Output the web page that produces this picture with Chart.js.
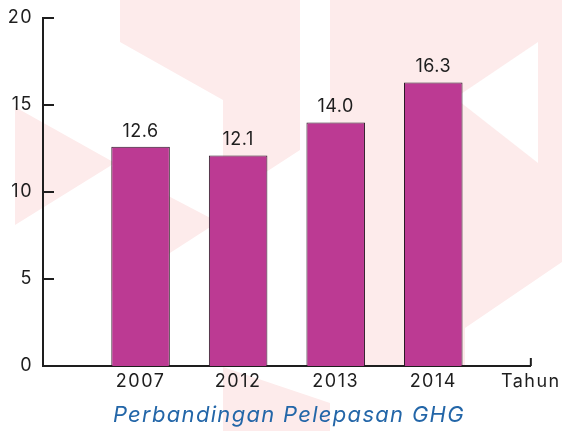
<!DOCTYPE html>
<html>
<head>
<meta charset="utf-8">
<script src="https://cdn.jsdelivr.net/npm/chart.js@4.4.0/dist/chart.umd.min.js"></script>
<style>
  html, body { margin: 0; padding: 0; background: #fff; }
  #wrap { width: 562px; height: 431px; }
</style>
</head>
<body>
<div id="wrap"><canvas id="myChart" width="562" height="431"></canvas></div>
<script>
let years = ['2007', '2012', '2013', '2014'];
let ghgValues = [12.6, 12.1, 14.0, 16.3];
let yTicks = [0, 5, 10, 15, 20];
let unitLabel = 'Tahun';
let chartTitle = 'Perbandingan Pelepasan GHG';

let labels = [''].concat(years, [unitLabel]);
let barData = [null].concat(ghgValues, [null]);

let fontFamily = "Inter, 'Noto Sans', sans-serif";
let textColor = '#1e1e1e';

// faint background pattern behind the chart
let bgShapes = [
    [[120, 0], [300, 0], [300, 150], [223, 200], [223, 100], [120, 42]],
    [[330, 0], [562, 0], [562, 262], [465, 328], [465, 366], [330, 366]],
    [[15, 107], [15, 225], [115, 163]],
    [[111, 166], [111, 291], [218, 222]],
    [[223, 367], [330, 403], [330, 431], [223, 431]]
];
let bgHole = [[538, 42], [538, 163], [455, 98]];

function tracePoly(c, pts) {
    c.beginPath();
    pts.forEach((p, i) => i ? c.lineTo(p[0], p[1]) : c.moveTo(p[0], p[1]));
    c.closePath();
}

let backgroundPlugin = {
    id: 'background',
    beforeDraw(chart) {
        let c = chart.ctx;
        c.save();
        c.fillStyle = '#fdebeb';
        bgShapes.forEach(shape => { tracePoly(c, shape); c.fill(); });
        c.fillStyle = '#ffffff';
        tracePoly(c, bgHole);
        c.fill();
        c.restore();
        // the original lettering is wide, so space all text out a little
        c.letterSpacing = '1.5px';
    }
};

let decorPlugin = {
    id: 'decor',
    afterDraw(chart) {
        let c = chart.ctx;
        let x = chart.scales.x;
        let y = chart.scales.y;
        let area = chart.chartArea;
        c.save();
        c.strokeStyle = textColor;
        c.lineWidth = 2;
        // inward tick marks on the value axis
        y.ticks.forEach(t => {
            let py = Math.round(y.getPixelForValue(t.value));
            c.beginPath();
            c.moveTo(area.left, py);
            c.lineTo(area.left + 11, py);
            c.stroke();
        });
        // small tick at the end of the category axis
        let endX = x.getPixelForValue(labels.length - 1);
        c.beginPath();
        c.moveTo(endX, area.bottom);
        c.lineTo(endX, area.bottom - 8);
        c.stroke();

        // value labels on top of bars
        c.fillStyle = textColor;
        c.font = '18px ' + fontFamily;
        c.letterSpacing = '0.5px';
        c.textAlign = 'center';
        c.textBaseline = 'alphabetic';
        chart.getDatasetMeta(0).data.forEach((bar, i) => {
            let v = barData[i];
            if (v === null) return;
            c.fillText(v.toFixed(1), bar.x, bar.y - 10);
        });

        // caption below the chart
        c.fillStyle = '#2366a8';
        c.font = 'italic 22px ' + fontFamily;
        c.letterSpacing = '1.3px';
        c.fillText(chartTitle, (area.left + area.right) / 2 + 2, 422);
        c.restore();
    }
};

let ctx = document.getElementById('myChart').getContext('2d');
let myChart = new Chart(ctx, {
    type: 'bar',
    data: {
        labels: labels,
        datasets: [{
            data: barData,
            backgroundColor: '#bc3a93',
            borderColor: '#2b1a26',
            borderWidth: 1,
            barPercentage: 0.6,
            categoryPercentage: 1
        }]
    },
    options: {
        responsive: false,
        animation: false,
        layout: { padding: { top: 18, right: 29, left: 0, bottom: 0 } },
        plugins: {
            legend: { display: false },
            tooltip: { enabled: false }
        },
        scales: {
            x: {
                offset: false,
                grid: { display: false, drawTicks: false },
                border: { display: true, color: textColor, width: 2 },
                ticks: {
                    color: textColor,
                    font: { family: fontFamily, size: 18 },
                    padding: 5,
                    maxRotation: 0,
                    autoSkip: false
                },
                afterFit: s => { s.height = 65; }
            },
            y: {
                min: 0,
                max: 20,
                afterBuildTicks: s => { s.ticks = yTicks.map(v => ({ value: v })); },
                grid: { display: false, drawTicks: false },
                border: { display: true, color: textColor, width: 2 },
                ticks: {
                    color: textColor,
                    font: { family: fontFamily, size: 18 },
                    padding: 10
                },
                afterFit: s => { s.width = 43; s.paddingTop = 0; s.paddingBottom = 0; }
            }
        }
    },
    plugins: [backgroundPlugin, decorPlugin]
});
</script>
</body>
</html>
